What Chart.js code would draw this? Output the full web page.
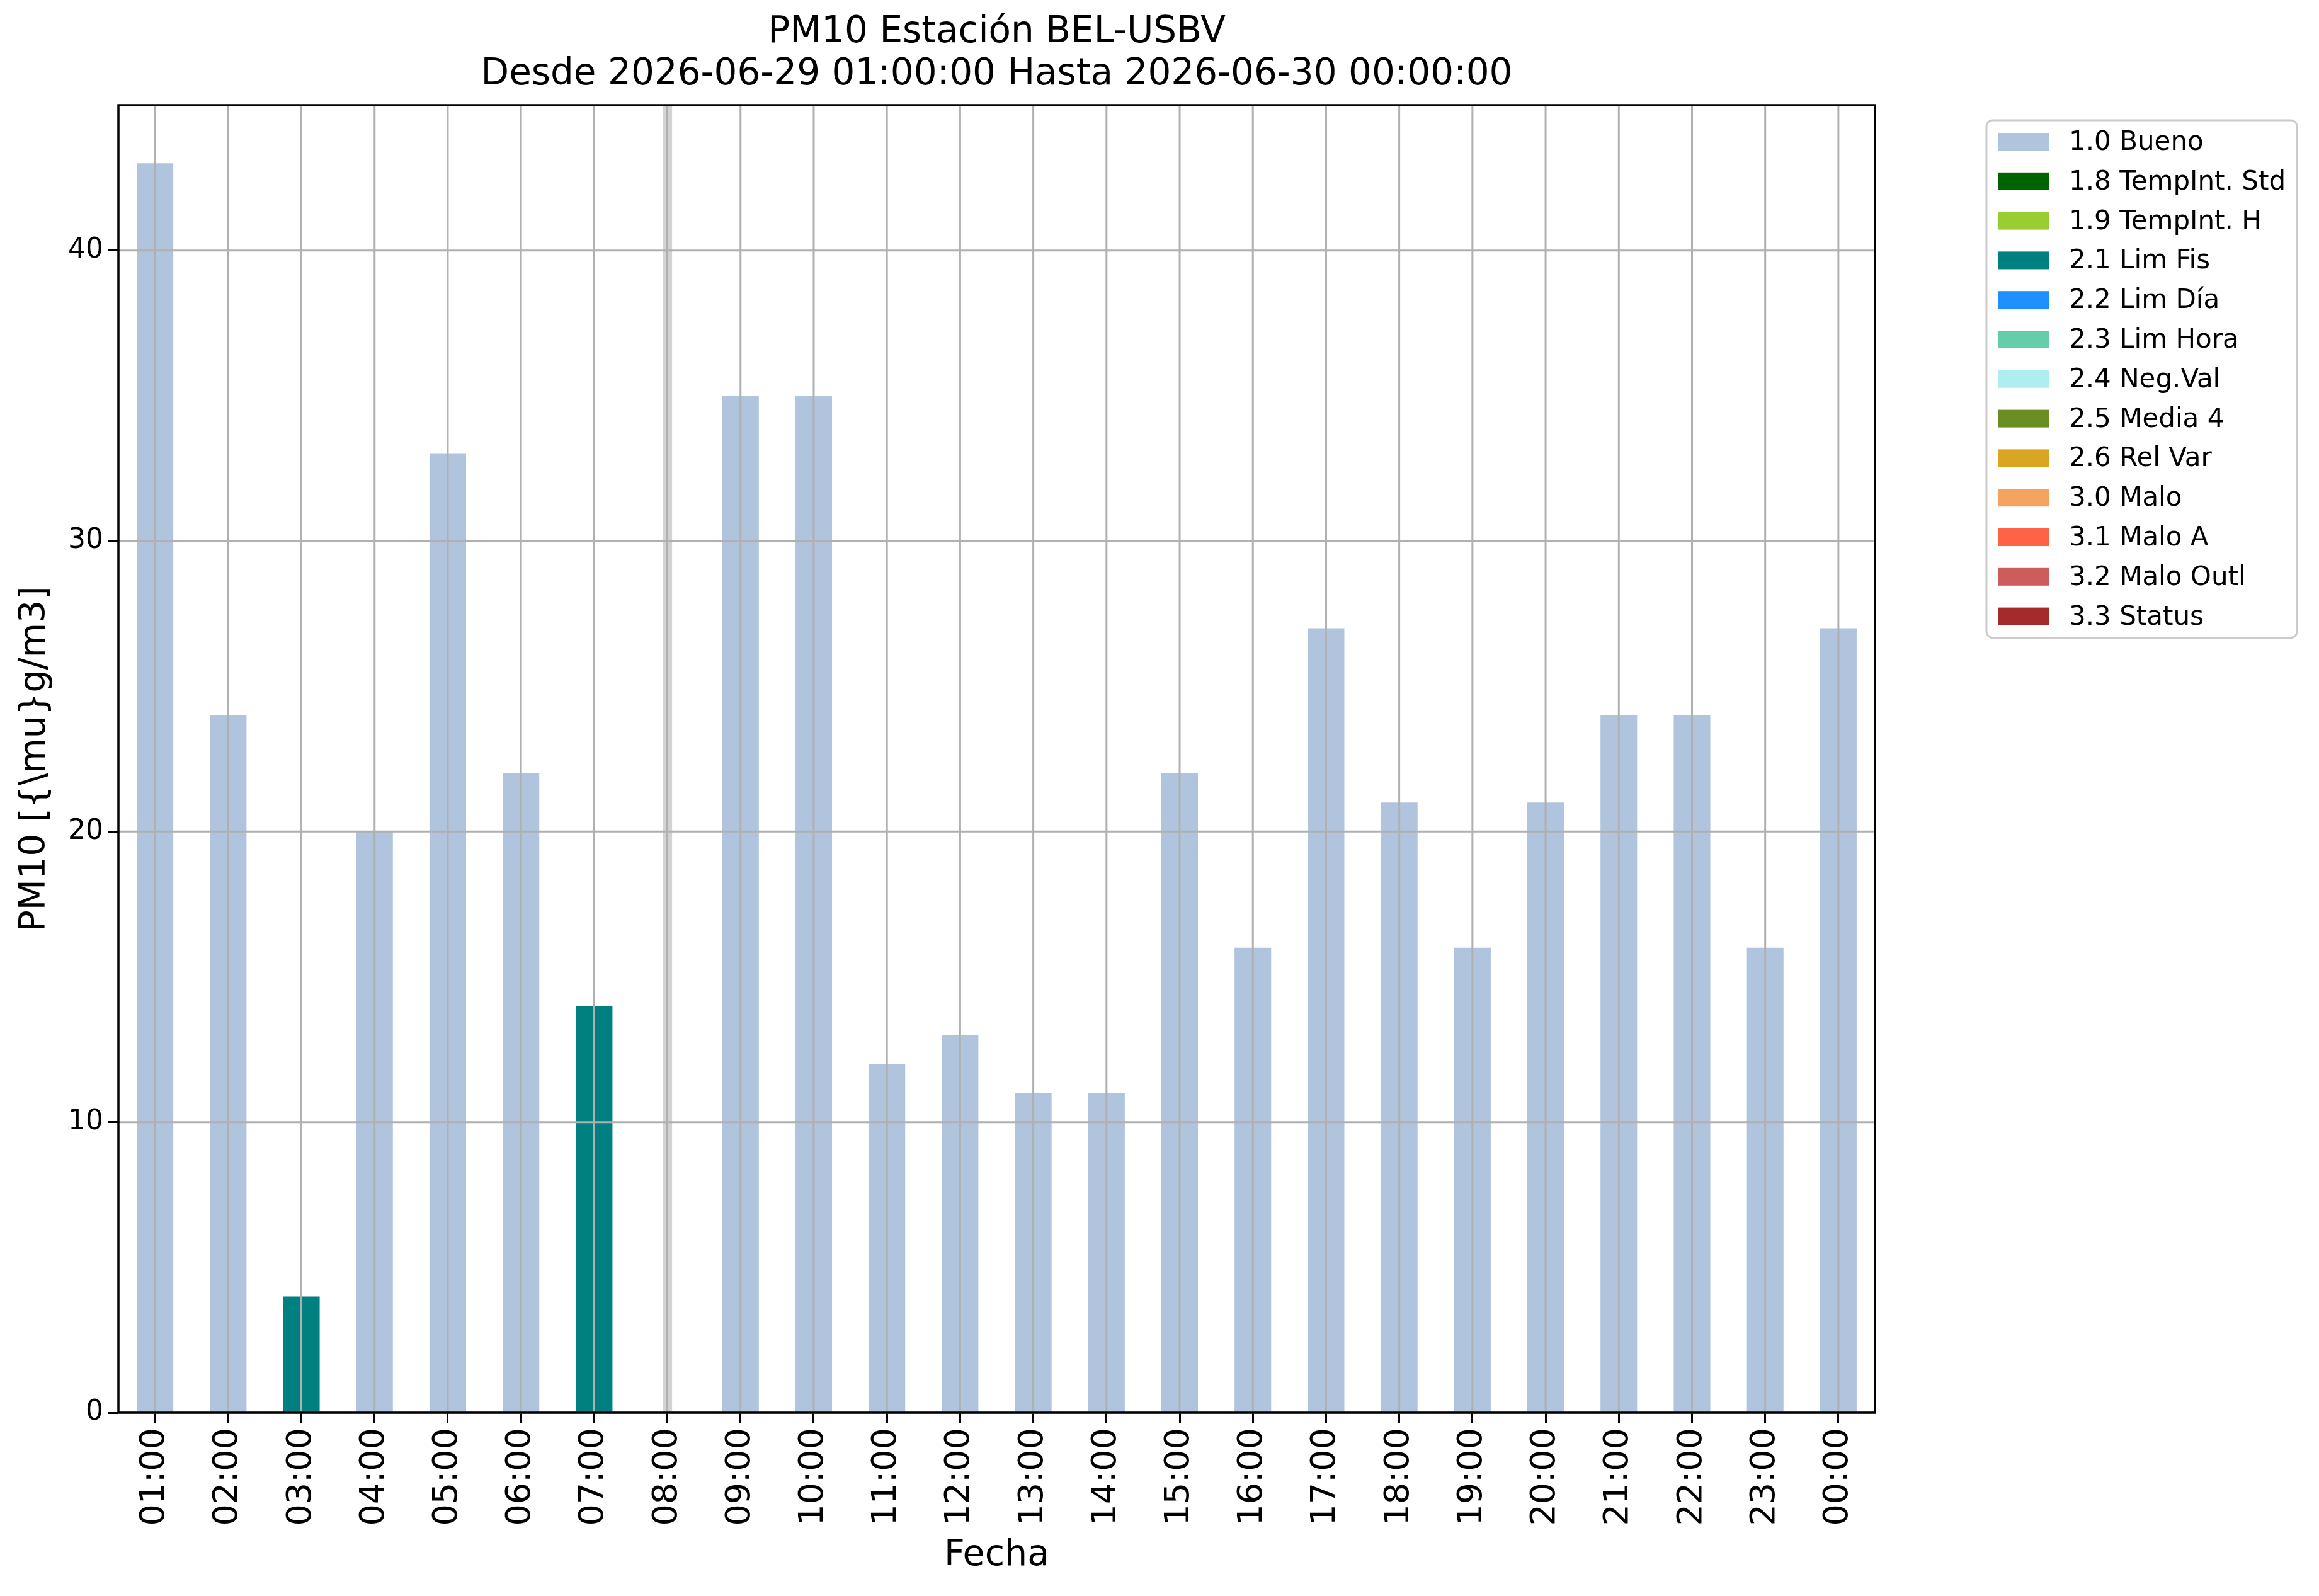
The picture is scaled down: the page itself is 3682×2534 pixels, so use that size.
<!DOCTYPE html>
<html lang="es">
  <head>
    <meta charset="UTF-8" />
    <title>PM10 BEL-USBV</title>
    <script src="https://cdn.jsdelivr.net/npm/chart.js@4/dist/chart.umd.min.js"></script>
    <style>
      html, body { margin: 0; padding: 0; background: #fff; }
      canvas { display: block; }
    </style>
  </head>
  <body>
    <canvas id="chart" width="3682" height="2534" style="width:3682px;height:2534px"></canvas>
    <script>
      const hours = ['01:00', '02:00', '03:00', '04:00', '05:00', '06:00', '07:00', '08:00',
        '09:00', '10:00', '11:00', '12:00', '13:00', '14:00', '15:00', '16:00',
        '17:00', '18:00', '19:00', '20:00', '21:00', '22:00', '23:00', '00:00'];

      // one array per validation flag, null where the hour has another flag
      const bueno = [43, 24, null, 20, 33, 22, null, null, 35, 35, 12, 13,
        11, 11, 22, 16, 27, 21, 16, 21, 24, 24, 16, 27];
      const tempIntStd = [];
      const tempIntH = [];
      const limFis = [null, null, 4, null, null, null, 14, null, null, null, null, null,
        null, null, null, null, null, null, null, null, null, null, null, null];
      const limDia = [];
      const limHora = [];
      const negVal = [];
      const media4 = [];
      const relVar = [];
      const malo = [];
      const maloA = [];
      const maloOutl = [];
      const status = [];

      const flagLabels = ['1.0 Bueno', '1.8 TempInt. Std', '1.9 TempInt. H', '2.1 Lim Fis',
        '2.2 Lim Día', '2.3 Lim Hora', '2.4 Neg.Val', '2.5 Media 4', '2.6 Rel Var',
        '3.0 Malo', '3.1 Malo A', '3.2 Malo Outl', '3.3 Status'];
      const flagColors = ['#b0c4de', '#006400', '#9acd32', '#008080', '#1e90ff', '#66cdaa',
        '#afeeee', '#6b8e23', '#daa520', '#f4a460', '#ff6347', '#cd5c5c', '#a52a2a'];
      const flagValues = [bueno, tempIntStd, tempIntH, limFis, limDia, limHora, negVal,
        media4, relVar, malo, maloA, maloOutl, status];

      const titleLines = ['PM10 Estación BEL-USBV', 'Desde 2026-06-29 01:00:00 Hasta 2026-06-30 00:00:00'];

      // hours with no value in any flag get the grey "missing" band
      const missing = hours
        .map((h, i) => i)
        .filter(i => flagValues.every(s => s[i] === undefined || s[i] === null));

      const FONT = 'DejaVu Sans';

      const overlay = {
        id: 'overlay',
        beforeDatasetsDraw(chart) {
          const { ctx, chartArea: a, scales: { x } } = chart;
          const w = (x.getPixelForTick(1) - x.getPixelForTick(0)) * 0.13;
          ctx.save();
          ctx.fillStyle = '#d3d3d3';
          missing.forEach(i => {
            const px = x.getPixelForValue(i);
            ctx.fillRect(px - w / 2, a.top, w, a.bottom - a.top);
          });
          ctx.restore();
        },
        afterDatasetsDraw(chart) {
          const { ctx, chartArea: a, scales: { x, y } } = chart;
          ctx.save();
          // grid on top of the bars, like the original
          ctx.strokeStyle = '#b0b0b0';
          ctx.lineWidth = 3;
          ctx.beginPath();
          x.ticks.forEach((t, i) => {
            const px = x.getPixelForTick(i);
            ctx.moveTo(px, a.top);
            ctx.lineTo(px, a.bottom);
          });
          y.ticks.forEach(t => {
            const py = y.getPixelForValue(t.value);
            ctx.moveTo(a.left, py);
            ctx.lineTo(a.right, py);
          });
          ctx.stroke();
          ctx.strokeStyle = '#000';
          ctx.lineWidth = 3.5;
          ctx.strokeRect(a.left, a.top, a.right - a.left, a.bottom - a.top);
          ctx.restore();
        },
        afterDraw(chart) {
          const { ctx, chartArea: a } = chart;
          ctx.save();
          ctx.fillStyle = '#000';
          ctx.textAlign = 'center';
          ctx.textBaseline = 'middle';
          ctx.font = '58px "' + FONT + '"';
          const cx = (a.left + a.right) / 2;
          ctx.fillText(titleLines[0], cx, a.top - 115);
          ctx.fillText(titleLines[1], cx, a.top - 48);

          // legend
          const fs = 42;
          ctx.font = fs + 'px "' + FONT + '"';
          const left = a.right + 177;
          const top = a.top + 24;
          const rowH = 62.8;
          const pad = 18;
          const swW = 82, swH = 28;
          const textX = left + pad + swW + 31;
          const maxW = Math.max(...flagLabels.map(l => ctx.measureText(l).width));
          const boxW = textX - left + maxW + pad;
          const boxH = 34 * 2 + rowH * (flagLabels.length - 1);
          ctx.beginPath();
          ctx.roundRect(left, top, boxW, boxH, 10);
          ctx.fillStyle = 'rgba(255,255,255,0.8)';
          ctx.fill();
          ctx.strokeStyle = '#cccccc';
          ctx.lineWidth = 3;
          ctx.stroke();
          ctx.textAlign = 'left';
          flagLabels.forEach((l, i) => {
            const cy = top + 34 + i * rowH;
            ctx.fillStyle = flagColors[i];
            ctx.fillRect(left + pad, cy - swH / 2, swW, swH);
            ctx.fillStyle = '#000';
            ctx.fillText(l, textX, cy + 2);
          });
          ctx.restore();
        }
      };

      const ctx = document.getElementById('chart').getContext('2d');
      const chart = new Chart(ctx, {
        type: 'bar',
        data: {
          labels: hours,
          datasets: flagLabels.map((label, i) => ({
            label: label,
            data: flagValues[i],
            backgroundColor: flagColors[i],
            borderWidth: 0,
            barPercentage: 0.5,
            categoryPercentage: 1.0
          }))
        },
        options: {
          responsive: false,
          animation: false,
          devicePixelRatio: 1,
          layout: { padding: { left: 0, top: 167, right: 705, bottom: 0 } },
          plugins: {
            legend: { display: false },
            title: { display: false },
            tooltip: { enabled: false }
          },
          scales: {
            x: {
              stacked: true,
              offset: true,
              border: { display: false },
              grid: { offset: false, drawOnChartArea: false, tickLength: 16, tickWidth: 3, tickColor: '#000' },
              ticks: {
                color: '#000', font: { family: FONT, size: 54 },
                maxRotation: 90, minRotation: 90, padding: 8, autoSkip: false
              },
              title: {
                display: true, text: 'Fecha', color: '#000',
                font: { family: FONT, size: 57 }, padding: { top: 0, bottom: 30 }
              },
              afterFit(s) { s.height = 291; }
            },
            y: {
              stacked: true,
              min: 0,
              max: 45,
              border: { display: false },
              grid: { drawOnChartArea: false, tickLength: 16, tickWidth: 3, tickColor: '#000' },
              ticks: {
                stepSize: 10, includeBounds: false, color: '#000',
                font: { family: FONT, size: 44 }, padding: 8
              },
              title: {
                display: true, text: 'PM10 [{\\mu}g/m3]', color: '#000',
                font: { family: FONT, size: 57 }, padding: { top: 22, bottom: 0 }
              },
              afterFit(s) { s.width = 188; }
            }
          }
        },
        plugins: [overlay]
      });
    </script>
  </body>
</html>
